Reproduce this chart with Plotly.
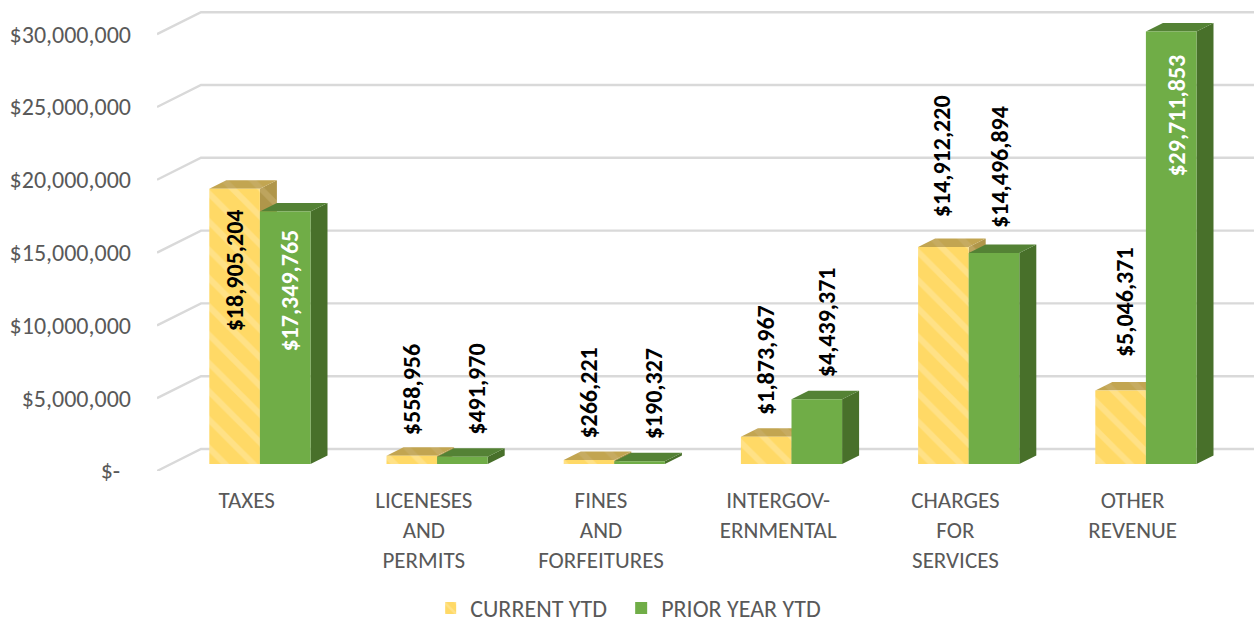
import plotly.graph_objects as go

CATEGORIES = ["TAXES", "LICENESES<br>AND<br>PERMITS", "FINES<br>AND<br>FORFEITURES",
              "INTERGOV-<br>ERNMENTAL", "CHARGES<br>FOR<br>SERVICES", "OTHER<br>REVENUE"]
CURRENT_YTD = [18905204, 558956, 266221, 1873967, 14912220, 5046371]
PRIOR_YTD = [17349765, 491970, 190327, 4439371, 14496894, 29711853]
TICK_VALUES = [0, 5000000, 10000000, 15000000, 20000000, 25000000, 30000000]
TICK_LABELS = ["$-\u00a0\u00a0", "$5,000,000", "$10,000,000", "$15,000,000",
               "$20,000,000", "$25,000,000", "$30,000,000"]

# canvas geometry (pixels) used only to line the faked 3-D planes up
W, H = 1254, 631
PLOT_L, PLOT_B = 157, 471
PX_CAT, PX_VAL = 177.2, 14.56 / 1e6
EDGE_X0, EDGE_Y0 = 246.6, 471      # front edge of the floor: category 0, value 0
BAR_X0, BAR_Y0 = 259.9, 464        # front plane of the columns
DEPTH_DX, DEPTH_DY = 17 / PX_CAT, 8.5 / PX_VAL   # column depth
WALL_DX, WALL_DY = 44 / PX_CAT, 22 / PX_VAL      # floor depth
BAR_W = 50.6 / PX_CAT

# label nudges in pixels: (dx, dy)
CUR_NUDGE = [(0, 19), (0, -19), (0, -19), (0, -20), (-2, -28), (4, -31)]
PRI_NUDGE = [(4, 16), (14, -20), (14, -20), (10, -20), (6, -23), (5, 21)]
INSIDE_CUR = [True, False, False, False, False, False]
INSIDE_PRI = [True, False, False, False, False, True]

YELLOW, STRIPE = "#FFD966", "#FFE9A6"
GREEN = "#70AD47"
GRID, TEXT = "#D9D9D9", "#595959"
FONT = "Carlito, Lato, sans-serif"
SIZE = 24

fig = go.Figure()

# back wall and side wall gridlines, on the floor-edge plane
x_right = (W - EDGE_X0) / PX_CAT
x_left = (PLOT_L - EDGE_X0) / PX_CAT
for v in TICK_VALUES:
    fig.add_trace(go.Scatter(x=[x_left, x_left + WALL_DX, x_right], y=[v, v + WALL_DY, v + WALL_DY],
                             mode="lines", line=dict(color=GRID, width=2.4),
                             hoverinfo="skip", showlegend=False, xaxis="x", yaxis="y"))


def faces(values, side):
    xs, ys = [], []
    for i, v in enumerate(values):
        x0 = i - BAR_W if side == 0 else i
        x1 = x0 + BAR_W
        xs += [x0, x1, x1 + DEPTH_DX, x0 + DEPTH_DX, x0, None]
        ys += [v, v, v + DEPTH_DY, v + DEPTH_DY, v, None]
    return xs, ys


def sides(values, side):
    xs, ys = [], []
    for i, v in enumerate(values):
        x1 = i if side == 0 else i + BAR_W
        xs += [x1, x1 + DEPTH_DX, x1 + DEPTH_DX, x1, x1, None]
        ys += [0, DEPTH_DY, v + DEPTH_DY, v, 0, None]
    return xs, ys


for side, vals, side_col, top_col, pattern in [
    (0, CURRENT_YTD, "#B0964A", "#C2A551", True),
    (1, PRIOR_YTD, "#48702A", "#548235", False),
]:
    for fn, col in ((sides, side_col), (faces, top_col)):
        xs, ys = fn(vals, side)
        extra = dict(fillpattern=dict(shape="\\", size=20, solidity=0.3,
                                      fgcolor="#C9B272", bgcolor=col)) if pattern else {}
        fig.add_trace(go.Scatter(x=xs, y=ys, mode="none", fill="toself", fillcolor=col,
                                 hoverinfo="skip", showlegend=False, xaxis="x2", yaxis="y2", **extra))

x_pos = list(range(len(CATEGORIES)))
fig.add_trace(go.Bar(x=x_pos, y=CURRENT_YTD, name="CURRENT YTD", xaxis="x3", yaxis="y3",
                     marker=dict(color=YELLOW, line=dict(width=0),
                                 pattern=dict(shape="\\", size=20, solidity=0.3,
                                              fgcolor=STRIPE, bgcolor=YELLOW))))
fig.add_trace(go.Bar(x=x_pos, y=PRIOR_YTD, name="PRIOR YEAR YTD", xaxis="x3", yaxis="y3",
                     marker=dict(color=GREEN, line=dict(width=0))))

annotations = []
for vals, nudge, inside, sign in [(CURRENT_YTD, CUR_NUDGE, INSIDE_CUR, -1), (PRIOR_YTD, PRI_NUDGE, INSIDE_PRI, 1)]:
    for i, v in enumerate(vals):
        white = inside[i] and sign == 1
        annotations.append(dict(
            x=i + sign * BAR_W / 2, y=v, xref="x3", yref="y3", text=f"<b>${v:,}</b>",
            showarrow=False, textangle=-90,
            xanchor="center", yanchor="top" if inside[i] else "bottom",
            xshift=nudge[i][0], yshift=-nudge[i][1],
            font=dict(family=FONT, size=SIZE, color="#FFFFFF" if white else "#000000"),
        ))

px = PX_VAL
x_range = [(PLOT_L - EDGE_X0) / PX_CAT, (W - EDGE_X0) / PX_CAT]
y_range = [0, PLOT_B / px]
x2_range = [(PLOT_L - BAR_X0) / PX_CAT, (W - BAR_X0) / PX_CAT]
y2_range = [(BAR_Y0 - PLOT_B) / px, BAR_Y0 / px]
hidden = dict(visible=False, showgrid=False, zeroline=False)

fig.update_layout(
    width=W, height=H, margin=dict(l=PLOT_L, r=0, t=0, b=H - PLOT_B),
    paper_bgcolor="white", plot_bgcolor="white",
    font=dict(family=FONT, size=SIZE, color=TEXT),
    barmode="group", bargap=1 - 2 * BAR_W, bargroupgap=0,
    xaxis=dict(range=x_range, tickmode="array", tickvals=x_pos, ticktext=CATEGORIES,
               showgrid=False, zeroline=False, showline=False, ticks="", ticklabelstandoff=13,
               tickangle=0, tickfont=dict(family=FONT, size=SIZE - 1, color=TEXT)),
    yaxis=dict(range=y_range, tickmode="array", tickvals=TICK_VALUES, ticktext=TICK_LABELS,
               showgrid=False, zeroline=False, showline=False, ticks="", ticklabelstandoff=25,
               tickfont=dict(family=FONT, size=SIZE, color=TEXT)),
    xaxis2=dict(range=x2_range, overlaying="x", **hidden),
    yaxis2=dict(range=y2_range, overlaying="y", **hidden),
    xaxis3=dict(range=x2_range, overlaying="x", **hidden),
    yaxis3=dict(range=y2_range, overlaying="y", **hidden),
    annotations=annotations,
    legend=dict(orientation="h", xref="container", yref="container", x=0.355, y=0.0,
                xanchor="left", yanchor="bottom", traceorder="normal", indentation=-15,
                entrywidth=161, entrywidthmode="pixels",
                font=dict(family=FONT, size=SIZE, color=TEXT), bgcolor="rgba(0,0,0,0)"),
    showlegend=True,
)

fig.write_html("out.html", post_script="document.body.style.margin='0';document.body.style.overflow='hidden';",
               config=dict(displayModeBar=False))
